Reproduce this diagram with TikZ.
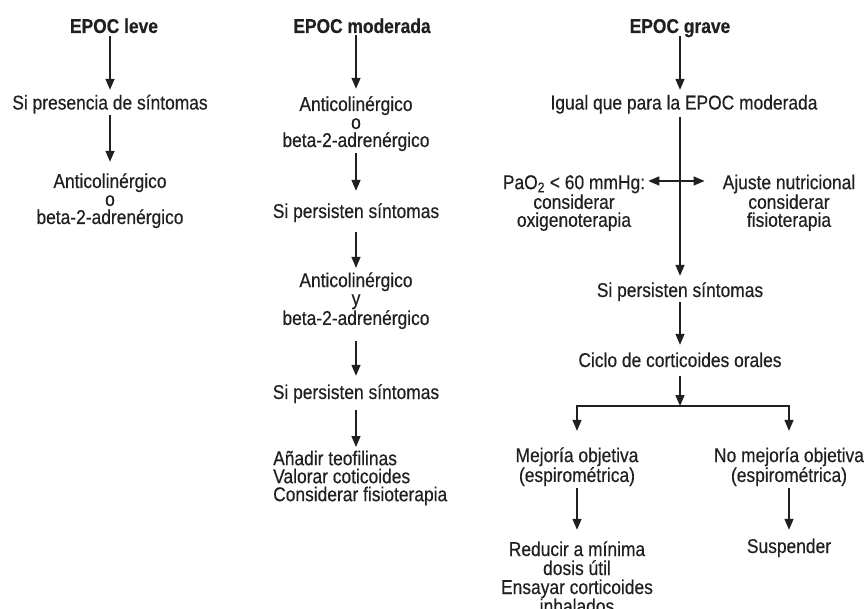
\documentclass[tikz,border=0pt]{standalone}
\usepackage{fontspec}
\setmainfont{Liberation Sans}[FakeStretch=0.87,FakeBold=0.4]
\usetikzlibrary{arrows.meta,calc}
\definecolor{ink}{RGB}{35,31,32}
\newcommand{\mytop}{\rule{0pt}{15.5pt}}
\newcommand{\mybot}{\rule[-4.5pt]{0pt}{4.5pt}}
\begin{document}
\begin{tikzpicture}[x=1pt,y=-1pt,
  txt/.style={inner sep=0pt, align=center, font=\fontsize{20}{18}\selectfont, text=ink},
  one/.style={txt, text height=15.5pt, text depth=4.5pt},
  ttl/.style={txt, font=\fontsize{20}{18}\selectfont\bfseries, text height=15.5pt, text depth=0pt},
  arr/.style={draw=ink, line width=1.4pt, -{Triangle[length=11pt,width=9pt]}},
  darr/.style={draw=ink, line width=1.4pt, {Triangle[length=11pt,width=9pt]}-{Triangle[length=11pt,width=9pt]}}]
\useasboundingbox[fill=white] (0,0) rectangle (867,609);

% column 1
\node[ttl, anchor=base] (t1) at (114,33) {EPOC leve};
\node[one, anchor=base] (s1) at (110,109.5) {Si presencia de síntomas};
\node[txt] (a1) at (110,200.5) {\mytop Anticolinérgico\\o\\beta-2-adrenérgico\mybot};
\draw[arr, shorten <=2.5pt, shorten >=4pt] (t1.south -| s1.north) -- (s1.north);
\draw[arr, shorten <=1pt, shorten >=10.5pt] (s1.south) -- (a1.north);

% column 2
\node[ttl, anchor=base] (t2) at (362,33) {EPOC moderada};
\node[txt] (b1) at (356,123.5) {\mytop Anticolinérgico\\o\\beta-2-adrenérgico\mybot};
\node[one, anchor=base] (p1) at (356,218) {Si persisten síntomas};
\node[txt] (c1) at (356,300.5) {\mytop Anticolinérgico\\y\\beta-2-adrenérgico\mybot};
\node[one, anchor=base] (p2) at (356,399) {Si persisten síntomas};
\node[txt, align=left, anchor=north west] (d1) at (273,449.5) {\mytop Añadir teofilinas\\Valorar coticoides\\Considerar fisioterapia\mybot};
\draw[arr, shorten <=2pt, shorten >=6.5pt] (t2.south -| b1.north) -- (b1.north);
\draw[arr, shorten <=1.5pt, shorten >=11.5pt] (b1.south) -- (p1.north);
\draw[arr, shorten <=9.5pt, shorten >=3.5pt] (p1.south) -- (c1.north);
\draw[arr, shorten <=11.5pt, shorten >=7.5pt] (c1.south) -- (p2.north);
\draw[arr, shorten <=6.5pt, shorten >=2.5pt] (p2.south) -- (p2.south |- d1.north);

% column 3
\node[ttl, anchor=base] (g1) at (680,33) {EPOC grave};
\node[one, anchor=base] (i1) at (684,109.5) {Igual que para la EPOC moderada};
\node[txt] (L) at (574,202.5) {\mytop PaO\textsubscript{2} < 60 mmHg:\\considerar\\oxigenoterapia\mybot};
\node[txt] (R) at (789,202.5) {\mytop Ajuste nutricional\\considerar\\fisioterapia\mybot};
\node[one, anchor=base] (p3) at (680,297) {Si persisten síntomas};
\node[one, anchor=base] (k1) at (680,367) {Ciclo de corticoides orales};
\coordinate (br) at (680,406);
\node[txt] (m1) at (577,466.5) {\mytop Mejoría objetiva\\(espirométrica)\mybot};
\node[txt] (m2) at (789,466.5) {\mytop No mejoría objetiva\\(espirométrica)\mybot};
\node[txt, font=\fontsize{20}{19}\selectfont] (r1) at (577,579) {\mytop Reducir a mínima\\dosis útil\\Ensayar corticoides\\inhalados\mybot};
\node[one, anchor=base] (s2) at (789,553) {Suspender};

\draw[arr, shorten <=3pt, shorten >=4pt] (g1.south) -- (g1.south |- i1.north);
\draw[arr, shorten <=3pt, shorten >=5.5pt] (i1.south -| p3.north) -- (p3.north);
\draw[darr] ($(L.north east)+(3,7.5)$) -- ($(R.north west)+(-18,7.5)$);
\draw[arr, shorten <=0.5pt, shorten >=6.5pt] (p3.south) -- (k1.north);
\draw[arr, shorten <=4.5pt] (k1.south) -- (br);
\draw[arr, shorten >=15.5pt] (br) -| (m1.north);
\draw[arr, shorten >=15.5pt] (br) -| (m2.north);
\draw[arr, shorten <=1.5pt, shorten >=10.5pt] (m1.south) -- (r1.north);
\draw[arr, shorten <=1.5pt, shorten >=7.5pt] (m2.south) -- (s2.north);
\end{tikzpicture}
\end{document}
